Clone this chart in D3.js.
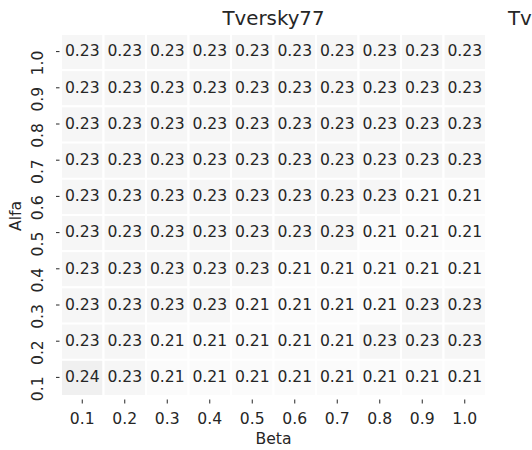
<!DOCTYPE html>
<html><head><meta charset="utf-8">
<script src="https://cdn.jsdelivr.net/npm/d3@7"></script>
<style>html,body{margin:0;padding:0;background:#fff;}svg{display:block;}</style>
</head><body>
<script>
const betaLabels = ["0.1","0.2","0.3","0.4","0.5","0.6","0.7","0.8","0.9","1.0"];
const alfaLabels = ["1.0","0.9","0.8","0.7","0.6","0.5","0.4","0.3","0.2","0.1"];
// rows top (alfa 1.0) to bottom (alfa 0.1), columns beta 0.1..1.0
const row10 = [0.23,0.23,0.23,0.23,0.23,0.23,0.23,0.23,0.23,0.23];
const row09 = [0.23,0.23,0.23,0.23,0.23,0.23,0.23,0.23,0.23,0.23];
const row08 = [0.23,0.23,0.23,0.23,0.23,0.23,0.23,0.23,0.23,0.23];
const row07 = [0.23,0.23,0.23,0.23,0.23,0.23,0.23,0.23,0.23,0.23];
const row06 = [0.23,0.23,0.23,0.23,0.23,0.23,0.23,0.23,0.21,0.21];
const row05 = [0.23,0.23,0.23,0.23,0.23,0.23,0.23,0.21,0.21,0.21];
const row04 = [0.23,0.23,0.23,0.23,0.23,0.21,0.21,0.21,0.21,0.21];
const row03 = [0.23,0.23,0.23,0.23,0.21,0.21,0.21,0.21,0.23,0.23];
const row02 = [0.23,0.23,0.21,0.21,0.21,0.21,0.21,0.23,0.23,0.23];
const row01 = [0.24,0.23,0.21,0.21,0.21,0.21,0.21,0.21,0.21,0.21];
const rows = [row10,row09,row08,row07,row06,row05,row04,row03,row02,row01];
const title = "Tversky77";
const nextTitle = "Tv";
const xTitle = "Beta";
const yTitle = "Alfa";

const W = 532, H = 450;
const font = "DejaVu Sans, sans-serif";
const txt = "#262626";
const fs = 15.6;
const svg = d3.select("body").append("svg").attr("width", W).attr("height", H);

const x = d3.scaleBand().domain(betaLabels).range([61, 486]);
const y = d3.scaleBand().domain(alfaLabels).range([34, 396]);
const color = d3.scaleLinear().domain([0.21, 0.23, 0.24]).range(["#fbfbfb", "#f6f6f6", "#f0f0f0"]);

const cells = [];
rows.forEach((r, i) => r.forEach((v, j) => cells.push({a: alfaLabels[i], b: betaLabels[j], v})));

svg.append("g").selectAll("rect").data(cells).join("rect")
  .attr("x", d => x(d.b)).attr("y", d => y(d.a))
  .attr("width", x.bandwidth()).attr("height", y.bandwidth())
  .attr("fill", d => color(d.v)).attr("stroke", "#fff").attr("stroke-width", 2);

svg.append("g").selectAll("text").data(cells).join("text")
  .attr("x", d => x(d.b) + x.bandwidth() / 2)
  .attr("y", d => y(d.a) + y.bandwidth() / 2 + 4.3)
  .attr("text-anchor", "middle")
  .attr("font-family", font).attr("font-size", fs).attr("fill", txt)
  .text(d => d.v.toFixed(2));

// x axis ticks
const xt = svg.append("g");
xt.selectAll("line").data(betaLabels).join("line")
  .attr("x1", d => x(d) + x.bandwidth() / 2).attr("x2", d => x(d) + x.bandwidth() / 2)
  .attr("y1", 399.5).attr("y2", 403.5).attr("stroke", txt).attr("stroke-width", 1);
xt.selectAll("text").data(betaLabels).join("text")
  .attr("x", d => x(d) + x.bandwidth() / 2).attr("y", 423.5)
  .attr("text-anchor", "middle").attr("font-family", font).attr("font-size", fs).attr("fill", txt)
  .text(d => d);

// y axis ticks
const yt = svg.append("g");
yt.selectAll("line").data(alfaLabels).join("line")
  .attr("x1", 56).attr("x2", 59.5)
  .attr("y1", d => y(d) + y.bandwidth() / 2 - 0.5).attr("y2", d => y(d) + y.bandwidth() / 2 - 0.5)
  .attr("stroke", txt).attr("stroke-width", 1);
yt.selectAll("text").data(alfaLabels).join("text")
  .attr("transform", d => `translate(43,${y(d) + y.bandwidth() / 2 - 1.5}) rotate(-90)`)
  .attr("text-anchor", "end").attr("font-family", font).attr("font-size", fs).attr("fill", txt)
  .text(d => d);

svg.append("text").attr("x", 273.5).attr("y", 444).attr("text-anchor", "middle")
  .attr("font-family", font).attr("font-size", fs).attr("fill", txt).text(xTitle);
svg.append("text").attr("transform", "translate(21,216) rotate(-90)").attr("text-anchor", "middle")
  .attr("font-family", font).attr("font-size", fs).attr("fill", txt).text(yTitle);

svg.append("text").attr("x", 273.5).attr("y", 25).attr("text-anchor", "middle")
  .attr("font-family", font).attr("font-size", 19.8).attr("fill", txt).text(title);
svg.append("text").attr("x", 508).attr("y", 25)
  .attr("font-family", font).attr("font-size", 19.8).attr("fill", txt).text(nextTitle);
</script>
</body></html>
